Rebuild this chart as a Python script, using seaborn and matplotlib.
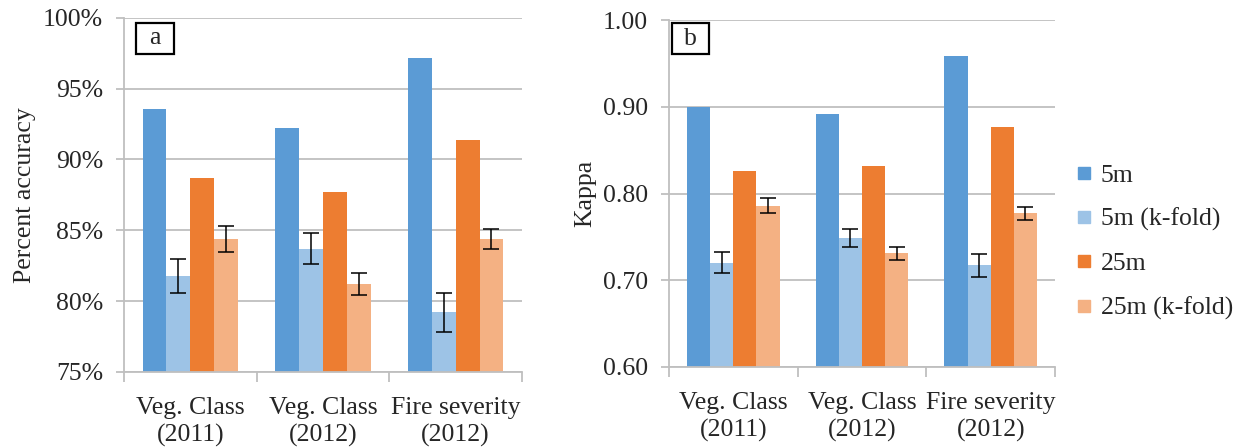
import matplotlib
matplotlib.use("Agg")
import matplotlib.pyplot as plt
import matplotlib.ticker as mticker
from matplotlib.lines import Line2D
from matplotlib.patches import Rectangle
import numpy as np
import pandas as pd
import seaborn as sns

# --- data -------------------------------------------------------------
categories = ["Veg. Class\n(2011)", "Veg. Class\n(2012)", "Fire severity\n(2012)"]
series = ["5m", "5m (k-fold)", "25m", "25m (k-fold)"]

accuracy_5m = [93.6, 92.2, 97.2]
accuracy_5m_kfold = [81.8, 83.7, 79.2]
accuracy_25m = [88.7, 87.7, 91.4]
accuracy_25m_kfold = [84.4, 81.2, 84.4]
accuracy_5m_kfold_err = [1.2, 1.1, 1.4]
accuracy_25m_kfold_err = [0.9, 0.8, 0.7]

kappa_5m = [0.900, 0.892, 0.959]
kappa_5m_kfold = [0.720, 0.749, 0.717]
kappa_25m = [0.826, 0.832, 0.877]
kappa_25m_kfold = [0.786, 0.731, 0.777]
kappa_5m_kfold_err = [0.012, 0.0105, 0.013]
kappa_25m_kfold_err = [0.009, 0.0075, 0.007]

colors = ["#5B9BD5", "#9DC3E6", "#ED7D31", "#F4B183"]

# --- style ------------------------------------------------------------
sns.set_theme(style="white")
plt.rcParams["font.family"] = ["Liberation Serif", "DejaVu Serif"]
FS = 18.5
plt.rcParams["font.size"] = FS
GRID = "#BFBFBF"


def long_frame(vals):
    rows = []
    for s, v in zip(series, vals):
        for c, y in zip(categories, v):
            rows.append({"category": c, "series": s, "value": y})
    return pd.DataFrame(rows)


def draw_panel(ax, vals, errs, ylim, yticks, fmt, ylabel, tag, tag_box, ylabelpad):
    df = long_frame(vals)
    sns.barplot(data=df, x="category", y="value", hue="series",
                order=categories, hue_order=series, palette=colors,
                width=0.72, errorbar=None, saturation=1, linewidth=0,
                legend=False, ax=ax, zorder=2)
    # error bars on the k-fold series
    for idx, err in zip([1, 3], errs):
        bars = ax.containers[idx]
        xs = [b.get_x() + b.get_width() / 2 for b in bars]
        ys = [b.get_height() for b in bars]
        ax.errorbar(xs, ys, yerr=err, fmt="none", ecolor="black",
                    elinewidth=1.1, capsize=5.5, capthick=1.1, zorder=3)

    ax.set_ylim(*ylim)
    ax.set_yticks(yticks)
    ax.yaxis.set_major_formatter(fmt)
    ax.set_xlim(-0.5, len(categories) - 0.5)
    ax.grid(axis="y", color=GRID, linewidth=1.3, zorder=0)
    ax.set_axisbelow(True)
    for side in ["top", "right"]:
        ax.spines[side].set_visible(False)
    for side in ["left", "bottom"]:
        ax.spines[side].set_color(GRID)
        ax.spines[side].set_linewidth(1.3)
    ax.tick_params(axis="y", which="major", direction="out", length=6,
                   width=1.3, color=GRID, labelsize=FS, pad=9, left=True)
    # group separators on the category axis
    ax.set_xticks(np.arange(len(categories)))
    ax.set_xticklabels(categories, fontsize=FS, linespacing=1.3)
    ax.tick_params(axis="x", which="major", length=0, pad=18)
    ax.set_xticks(np.arange(len(categories) + 1) - 0.5, minor=True)
    ax.tick_params(axis="x", which="minor", direction="out", length=7,
                   width=1.3, color=GRID, bottom=True)
    ax.set_xlabel("")
    ax.set_ylabel(ylabel, fontsize=FS, labelpad=ylabelpad)

    x0, y0, w, h = tag_box
    ax.add_patch(Rectangle((x0, y0), w, h, transform=ax.transAxes,
                           facecolor="white", edgecolor="black",
                           linewidth=1.6, zorder=5, clip_on=False))
    ax.text(x0 + w / 2, y0 + h / 2, tag, transform=ax.transAxes,
            fontsize=FS, ha="center", va="center", zorder=6)


fig = plt.figure(figsize=(12.34, 4.48), dpi=100)
ax_a = fig.add_axes([0.1005, 0.170, 0.3225, 0.790])
ax_b = fig.add_axes([0.542, 0.181, 0.313, 0.774])

draw_panel(ax_a,
           [accuracy_5m, accuracy_5m_kfold, accuracy_25m, accuracy_25m_kfold],
           [accuracy_5m_kfold_err, accuracy_25m_kfold_err],
           (75, 100), [75, 80, 85, 90, 95, 100],
           mticker.PercentFormatter(decimals=0), "Percent accuracy", "a",
           (0.030, 0.898, 0.0955, 0.088), 5)
draw_panel(ax_b,
           [kappa_5m, kappa_5m_kfold, kappa_25m, kappa_25m_kfold],
           [kappa_5m_kfold_err, kappa_25m_kfold_err],
           (0.6, 1.0), [0.6, 0.7, 0.8, 0.9, 1.0],
           mticker.FormatStrFormatter("%.2f"), "Kappa", "b",
           (0.008, 0.902, 0.096, 0.089), 5)

handles = [Line2D([], [], marker="s", linestyle="none", markersize=9,
                  markerfacecolor=c, markeredgecolor=c) for c in colors]
fig.legend(handles, series, loc="center left", bbox_to_anchor=(0.864, 0.46),
           frameon=False, fontsize=FS, handlelength=0.6, handletextpad=0.35,
           labelspacing=0.82, borderaxespad=0)

fig.savefig("out.png", dpi=100)
